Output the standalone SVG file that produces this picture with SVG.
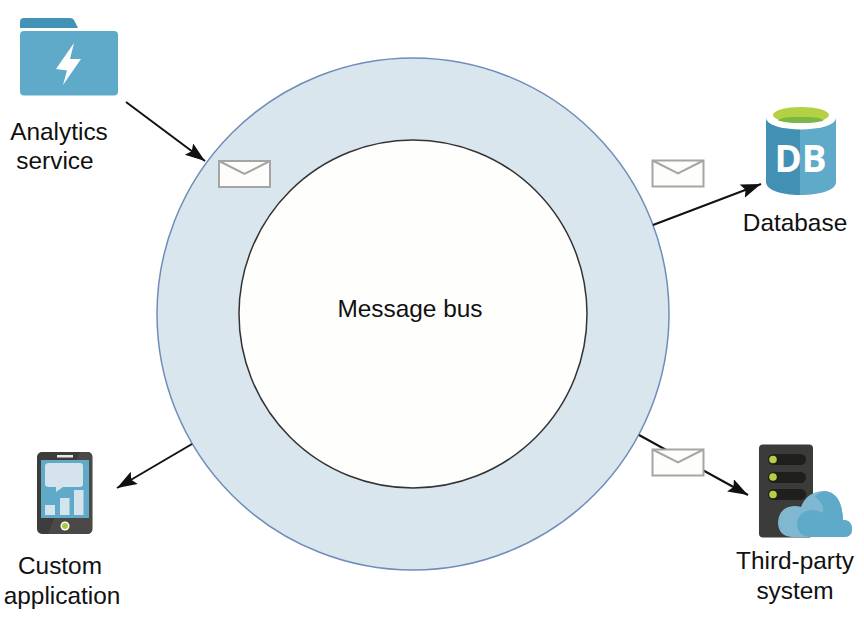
<svg xmlns="http://www.w3.org/2000/svg" width="864" height="628" viewBox="0 0 864 628">
<style>
.l{font-family:"Liberation Sans",Arial,sans-serif;font-size:24.400px;fill:#111;text-anchor:middle}
.env{fill:#fdfdfb;stroke:#a5a5a3;stroke-width:2}
.flap{fill:none;stroke:#a5a5a3;stroke-width:2}
.c{stroke:#111;stroke-width:2;fill:none;marker-end:url(#a)}
</style>
<defs>
<marker id="a" markerUnits="userSpaceOnUse" markerWidth="22" markerHeight="16" refX="20" refY="7" orient="auto">
<path d="M0 0L20 7L0 14L3.500 7Z" fill="#111"/>
</marker>
<g id="envelope">
<rect class="env" x="0" y="0" width="51" height="26"/>
<path class="flap" d="M0 0L25.500 13L51 0"/>
</g>
</defs>
<rect width="864" height="628" fill="#fff"/>
<g id="bus">
<circle cx="413" cy="314" r="256" fill="#d9e6ee" stroke="#6f8db9" stroke-width="1.500"/>
<circle cx="413" cy="314" r="174" fill="#fefefc" stroke="#333" stroke-width="1.500"/>
<text class="l" x="410" y="317">Message bus</text>
</g>
<g id="connectors">
<path class="c" d="M126 102L205 161"/>
<path class="c" d="M653 225L761 184"/>
<path class="c" d="M192 444L117 488"/>
<path class="c" d="M639 435L748 495"/>
</g>
<g id="messages">
<use href="#envelope" x="219" y="161"/>
<use href="#envelope" x="652.500" y="160.500"/>
<use href="#envelope" x="652.500" y="449.500"/>
</g>
<g id="analytics">
<path d="M20 28V22Q20 18 24 18H70Q73 18 74 20L78 28Z" fill="#4293b5"/>
<rect x="20" y="31" width="98" height="64.500" rx="4" fill="#60aac9"/>
<path d="M74 43L56 69L67 70.500L63 85L81 59L70 59Z" fill="#fff"/>
<text class="l" x="59" y="140">Analytics</text>
<text class="l" x="55" y="169">service</text>
</g>
<g id="database">
<path d="M766 118V182C766 190 781 195 800 195V118Z" fill="#4290b3"/>
<path d="M800 118V195C821 195 836 190 836 182V118Z" fill="#60aac9"/>
<ellipse cx="801" cy="118" rx="35" ry="11.500" fill="#fff"/>
<ellipse cx="801" cy="115" rx="28" ry="8" fill="#b4d144"/>
<path d="M778 120.500C782 117 790 117 801 117C812 117 820 117 823.500 120.500C818 122.500 810 123 801 123C792 123 784 122.500 778 120.500Z" fill="#7ab648"/>
<text x="800.500" y="172" font-family="'Open Sans',sans-serif" font-weight="700" font-size="37" fill="#fff" text-anchor="middle">DB</text>
<text class="l" x="795" y="231">Database</text>
</g>
<g id="custom-app">
<rect x="37" y="452" width="55.500" height="82" rx="5" fill="#3d3c3a"/>
<path d="M80 452H87Q92 452 92 457V529Q92 534 87 534H48Z" fill="#4a4947"/>
<rect x="41" y="460" width="48" height="58" fill="#60aac9"/>
<rect x="57" y="455" width="16" height="2.500" fill="#e8e8e6"/>
<path d="M49 463H80Q83 463 83 466V484Q83 487 80 487H63L56 492V487H49Q45 487 45 484V466Q45 463 49 463Z" fill="#d4e3ec"/>
<rect x="45" y="505" width="10" height="10" fill="#d4e3ec"/>
<rect x="60" y="498" width="9.500" height="17" fill="#d4e3ec"/>
<rect x="74" y="490" width="9.500" height="25" fill="#d4e3ec"/>
<circle cx="65" cy="526" r="4.500" fill="#fff"/>
<circle cx="65" cy="526" r="3" fill="#a9c93f"/>
<text class="l" x="60" y="574">Custom</text>
<text class="l" x="62" y="604">application</text>
</g>
<g id="third-party">
<rect x="759" y="444.500" width="54" height="93" rx="4" fill="#3b3b3a"/>
<rect x="768" y="454" width="38" height="11" rx="5.500" fill="#1f1f1e"/>
<rect x="768" y="472" width="38" height="11" rx="5.500" fill="#1f1f1e"/>
<rect x="768" y="489" width="38" height="11" rx="5.500" fill="#1f1f1e"/>
<circle cx="773" cy="459.500" r="3.800" fill="#b4d144"/>
<circle cx="773" cy="477" r="3.800" fill="#b4d144"/>
<circle cx="773" cy="494.500" r="3.800" fill="#b4d144"/>
<path d="M792 537Q778 536 778 522Q779 507 794 506Q799 506 801 507Q807 491 825 491Q842 493 843 520Q852 520 852 529Q852 537 844 537Z" fill="#7fb8d0"/>
<path d="M809 537Q797 535 797 524Q798 511 812 510Q818 510 822 513Q826 505 815 497Q820 491 825 491Q842 493 843 520Q852 520 852 529Q852 537 844 537Z" fill="#60aac9"/>
<text class="l" x="795" y="569">Third-party</text>
<text class="l" x="795" y="599">system</text>
</g>
</svg>
